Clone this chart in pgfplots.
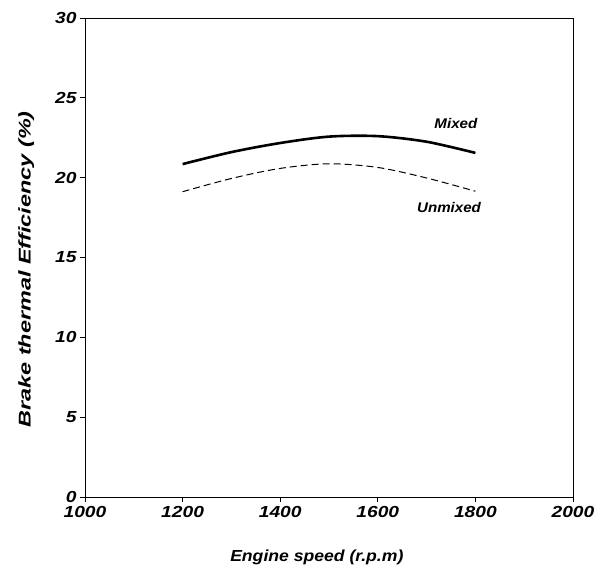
\documentclass[border=0pt]{standalone}
\usepackage{pgfplots}
\pgfplotsset{compat=1.18}
\usepackage{fontspec}
\setmainfont{Liberation Sans}
\newfontfamily\tickfont[FakeStretch=1.2]{Liberation Sans}
\newfontfamily\xlabfont[FakeStretch=1.1]{Liberation Sans}
\newfontfamily\ylabfont[FakeStretch=1.38]{Liberation Sans}
\newfontfamily\annfont[FakeStretch=1.08]{Liberation Sans}
\begin{document}
\begin{tikzpicture}
\begin{axis}[
  scale only axis,
  width=488pt, height=479pt,
  xmin=1000, xmax=2000, ymin=0, ymax=30,
  xtick={1000,1200,...,2000}, ytick={0,5,...,30},
  tick align=outside, tick pos=left,
  major tick length=5pt,
  axis line style={line width=0.8pt},
  tick style={line width=0.8pt, black},
  /pgf/number format/assume math mode=true,
  /pgf/number format/1000 sep={},
  ticklabel style={font=\tickfont\fontsize{16}{18}\selectfont\bfseries\itshape},
  xticklabel style={yshift=-1pt},
  xlabel={Engine speed (r.p.m)},
  ylabel={Brake thermal Efficiency (\%)},
  xlabel style={font=\xlabfont\fontsize{16}{19}\selectfont\bfseries\itshape, at={(ticklabel cs:0.475)}, yshift=-25pt},
  ylabel style={font=\ylabfont\fontsize{17}{19}\selectfont\bfseries\itshape, at={(ticklabel cs:0.475)}, yshift=14pt},
]
\addplot[black, line width=2.6pt, smooth] coordinates {
(1200,20.85) (1300,21.6) (1400,22.17) (1500,22.57) (1600,22.6) (1700,22.25) (1800,21.55)};
\addplot[black, line width=1pt, smooth, dash pattern=on 7pt off 4pt] coordinates {
(1200,19.12) (1300,19.95) (1400,20.58) (1500,20.87) (1600,20.64) (1700,19.98) (1800,19.15)};
\node[font=\annfont\fontsize{14}{16}\selectfont\bfseries\itshape] at (axis cs:1760,23.42) {Mixed};
\node[font=\annfont\fontsize{14}{16}\selectfont\bfseries\itshape] at (axis cs:1746,18.13) {Unmixed};
\end{axis}
\pgfresetboundingbox
\useasboundingbox ([xshift=-85pt,yshift=-73pt]current axis.south west) rectangle ([xshift=22pt,yshift=18pt]current axis.north east);
\end{tikzpicture}
\end{document}
